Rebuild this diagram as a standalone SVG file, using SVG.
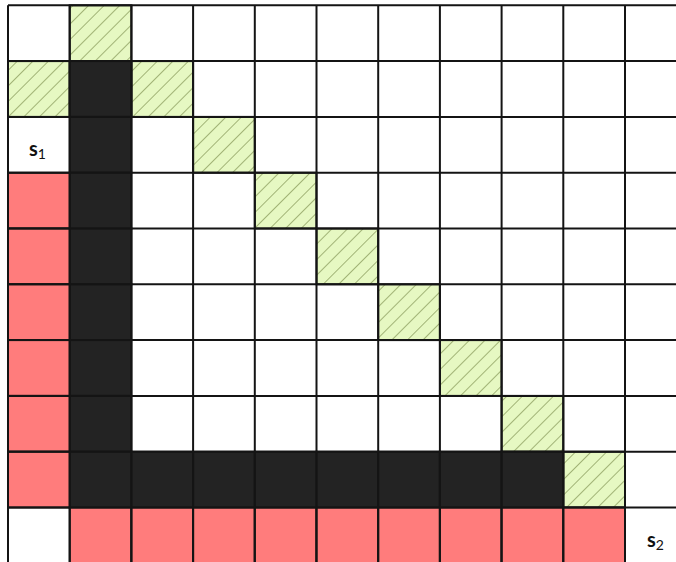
<svg xmlns="http://www.w3.org/2000/svg" width="676" height="562" viewBox="0 0 676 562">
<style>
.c{stroke:#1a1a1a;stroke-width:2}
.k{fill:#232323}
.r{fill:#ff7c7c}
.lbl{font-family:Lato,"Open Sans",sans-serif;font-weight:bold;font-size:20px;fill:#111}
.sub{font-size:14px;font-weight:normal}
</style>
<defs>
<pattern id="hatch" patternUnits="userSpaceOnUse" width="11" height="11" patternTransform="rotate(45)">
<rect width="11" height="11" fill="#e6f8c2"/>
<line x1="0" y1="0" x2="0" y2="11" stroke="#8fa262" stroke-width="1.6"/>
</pattern>
</defs>
<rect width="676" height="562" fill="#fff"/>
<g id="grid">
<g id="hatched" class="c" fill="url(#hatch)">
<rect x="69.7" y="5.3" width="61.7" height="55.8"/>
<rect x="8" y="61.1" width="61.7" height="55.8"/>
<rect x="131.4" y="61.1" width="61.7" height="55.8"/>
<rect x="193.1" y="116.9" width="61.7" height="55.8"/>
<rect x="254.8" y="172.7" width="61.7" height="55.8"/>
<rect x="316.5" y="228.5" width="61.7" height="55.8"/>
<rect x="378.2" y="284.3" width="61.7" height="55.8"/>
<rect x="439.9" y="340.1" width="61.7" height="55.8"/>
<rect x="501.6" y="395.9" width="61.7" height="55.8"/>
<rect x="563.3" y="451.7" width="61.7" height="55.8"/>
</g>
<g id="black" class="c k">
<rect x="69.7" y="61.1" width="61.7" height="55.8"/>
<rect x="69.7" y="116.9" width="61.7" height="55.8"/>
<rect x="69.7" y="172.7" width="61.7" height="55.8"/>
<rect x="69.7" y="228.5" width="61.7" height="55.8"/>
<rect x="69.7" y="284.3" width="61.7" height="55.8"/>
<rect x="69.7" y="340.1" width="61.7" height="55.8"/>
<rect x="69.7" y="395.9" width="61.7" height="55.8"/>
<rect x="69.7" y="451.7" width="61.7" height="55.8"/>
<rect x="131.4" y="451.7" width="61.7" height="55.8"/>
<rect x="193.1" y="451.7" width="61.7" height="55.8"/>
<rect x="254.8" y="451.7" width="61.7" height="55.8"/>
<rect x="316.5" y="451.7" width="61.7" height="55.8"/>
<rect x="378.2" y="451.7" width="61.7" height="55.8"/>
<rect x="439.9" y="451.7" width="61.7" height="55.8"/>
<rect x="501.6" y="451.7" width="61.7" height="55.8"/>
</g>
<g id="red" class="c r">
<rect x="8" y="172.7" width="61.7" height="55.8"/>
<rect x="8" y="228.5" width="61.7" height="55.8"/>
<rect x="8" y="284.3" width="61.7" height="55.8"/>
<rect x="8" y="340.1" width="61.7" height="55.8"/>
<rect x="8" y="395.9" width="61.7" height="55.8"/>
<rect x="8" y="451.7" width="61.7" height="55.8"/>
<rect x="69.7" y="507.5" width="61.7" height="55.8"/>
<rect x="131.4" y="507.5" width="61.7" height="55.8"/>
<rect x="193.1" y="507.5" width="61.7" height="55.8"/>
<rect x="254.8" y="507.5" width="61.7" height="55.8"/>
<rect x="316.5" y="507.5" width="61.7" height="55.8"/>
<rect x="378.2" y="507.5" width="61.7" height="55.8"/>
<rect x="439.9" y="507.5" width="61.7" height="55.8"/>
<rect x="501.6" y="507.5" width="61.7" height="55.8"/>
<rect x="563.3" y="507.5" width="61.7" height="55.8"/>
</g>
<g id="lines" stroke="#141414" stroke-width="2" fill="none">
<path d="M8 5.3V563.3M69.7 5.3V563.3M131.4 5.3V563.3M193.1 5.3V563.3M254.8 5.3V563.3M316.5 5.3V563.3M378.2 5.3V563.3M439.9 5.3V563.3M501.6 5.3V563.3M563.3 5.3V563.3M625 5.3V563.3"/>
<path d="M8 5.3H676M8 61.1H676M8 116.9H676M8 172.7H676M8 228.5H676M8 284.3H676M8 340.1H676M8 395.9H676M8 451.7H676M8 507.5H676"/>
</g>
</g>
<g id="s1"><text class="lbl" x="29" y="156">s<tspan class="sub" dy="3">1</tspan></text></g>
<g id="s2"><text class="lbl" x="647" y="547">s<tspan class="sub" dy="3">2</tspan></text></g>
</svg>
